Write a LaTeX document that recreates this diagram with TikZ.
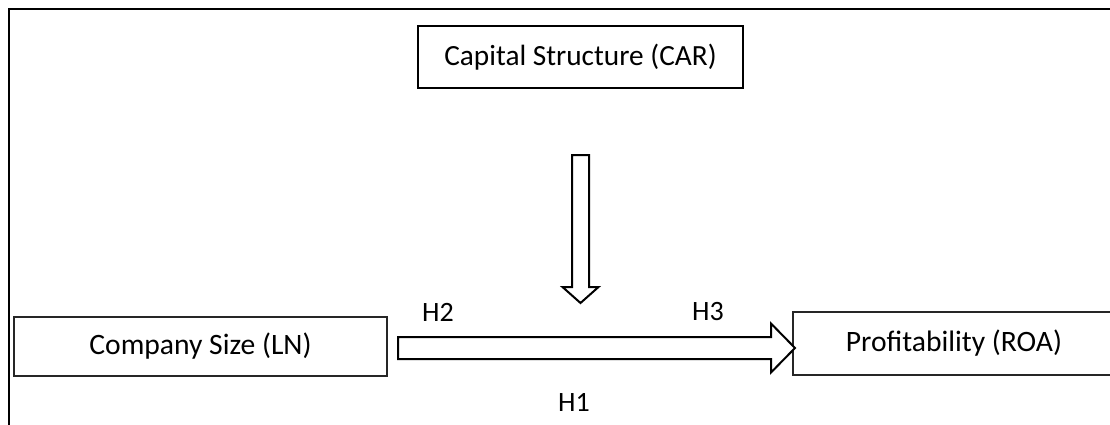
\documentclass[tikz,border=0pt]{standalone}
\usepackage{fontspec}
\setmainfont{Carlito}
\usetikzlibrary{calc}
\begin{document}
\begin{tikzpicture}[x=1pt,y=-1pt,
  varbox/.style={draw=black!85,line width=1.3pt,inner sep=0pt,font=\fontsize{29.6}{34}\selectfont},
  modbox/.style={draw=black,line width=2pt,inner sep=0pt,font=\fontsize{29.3}{34}\selectfont},
  hlabel/.style={inner sep=0pt,font=\fontsize{28}{33}\selectfont},
  bigarrow/.style={draw=black,line width=2pt,fill=white,line join=miter}]
\useasboundingbox (0,0) rectangle (1110,424);
\clip (0,0) rectangle (1110,424);
% outer frame (cut off right and bottom)
\draw[line width=2.8pt] (9,440) -- (9,9) -- (1130,9);
% nodes
\node[modbox,minimum width=325pt,minimum height=62pt] (car) at (580.5,57) {Capital Structure (CAR)};
\node[varbox,minimum width=373pt,minimum height=59pt] (size) at (200.5,346.5) {Company Size (LN)};
\node[inner sep=0pt,font=\fontsize{29.6}{34}\selectfont] (roa) at (954,343.5) {Profitability (ROA)};
\draw[draw=black!85,line width=1.3pt] ($(roa.center)+(200,-31.5)$) -- ($(roa.center)+(-161,-31.5)$)
  -- ($(roa.center)+(-161,31.5)$) -- ($(roa.center)+(200,31.5)$);
% arrow anchor coordinates
\coordinate (hs) at (398,348);
\coordinate (ht) at (795,348);
\coordinate (vs) at (580.5,155);
\coordinate (vt) at (580.5,303);
% horizontal block arrow size -> roa
\draw[bigarrow] ($(hs)+(0,-11)$) -- ($(ht)+(-24,-11)$) -- ($(ht)+(-24,-24.5)$) -- (ht)
  -- ($(ht)+(-24,24.5)$) -- ($(ht)+(-24,11)$) -- ($(hs)+(0,11)$) -- cycle;
% vertical block arrow car -> relation
\draw[bigarrow] ($(vs)+(-8.5,0)$) -- ($(vs)+(8.5,0)$) -- ($(vt)+(8.5,-16)$) -- ($(vt)+(18,-16)$)
  -- (vt) -- ($(vt)+(-18,-16)$) -- ($(vt)+(-8.5,-16)$) -- cycle;
% labels
\node[hlabel] (h2) at (438,312) {H2};
\node[hlabel] (h3) at (708,312) {H3};
\node[hlabel] (h1) at (574,402) {H1};
\end{tikzpicture}
\end{document}
